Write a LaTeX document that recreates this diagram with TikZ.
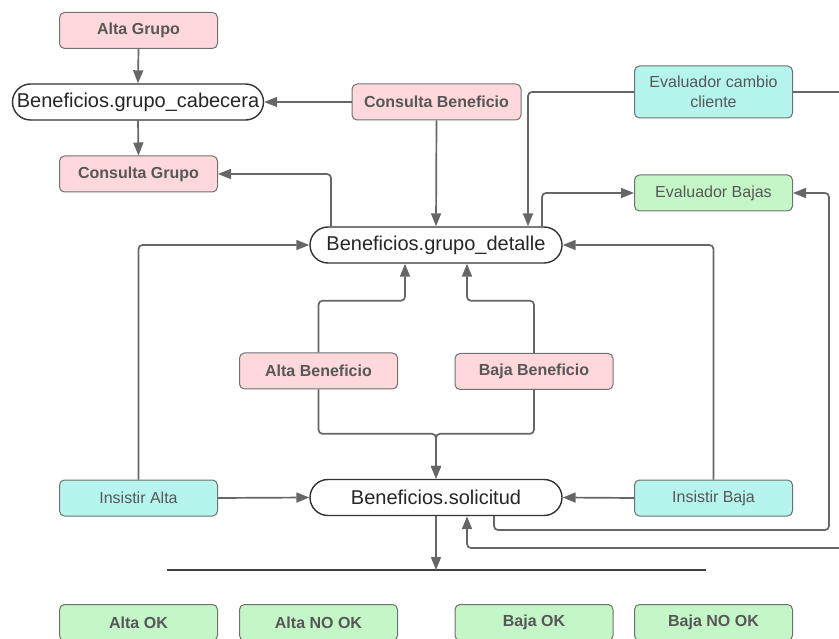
\documentclass[tikz,border=0pt]{standalone}
\usepackage{fontspec}
\setmainfont{Liberation Sans}
\usetikzlibrary{arrows.meta,calc}

\definecolor{pinkfill}{HTML}{FFD8DB}
\definecolor{cyanfill}{HTML}{B6F4EE}
\definecolor{greenfill}{HTML}{C4F6C8}
\definecolor{boxline}{HTML}{707070}
\definecolor{linegrey}{HTML}{666666}
\definecolor{txtgrey}{HTML}{575757}

\tikzset{
  box/.style={rectangle, rounded corners=5pt, draw=boxline, line width=1pt,
    minimum width=158pt, minimum height=36pt, inner sep=0pt, text=txtgrey,
    font=\fontsize{16}{20}\selectfont, align=center},
  pinkbox/.style={box, fill=pinkfill, font=\fontsize{16}{20}\selectfont\bfseries},
  cyanbox/.style={box, fill=cyanfill},
  greenbox/.style={box, fill=greenfill},
  greenbold/.style={box, fill=greenfill, font=\fontsize{16}{20}\selectfont\bfseries},
  tablenode/.style={rectangle, rounded corners=18pt, draw=black!80, line width=1.4pt,
    fill=white, minimum width=252pt, minimum height=36pt, inner sep=0pt,
    text=black!85, font=\fontsize{20}{24}\selectfont},
  conn/.style={draw=linegrey, line width=1.7pt, rounded corners=4pt,
    -{Triangle[length=13pt,width=10pt]}},
}

\begin{document}
\begin{tikzpicture}[x=1pt,y=-1pt]
\useasboundingbox (0,0) rectangle (839,639);
\clip (0,0) rectangle (839,639);

% tables
\node[tablenode, minimum width=251pt] (cab) at (138,102) {Beneficios.grupo\_cabecera};
\node[tablenode] (det) at (436,245) {Beneficios.grupo\_detalle};
\node[tablenode] (sol) at (436,497.5) {Beneficios.solicitud};

% operations
\node[pinkbox] (ag)  at (138.5,30.5) {Alta Grupo};
\node[pinkbox, minimum width=169pt] (cbf) at (436.5,102) {Consulta Beneficio};
\node[pinkbox] (cg)  at (138.5,174) {Consulta Grupo};
\node[pinkbox] (ab)  at (318.5,371) {Alta Beneficio};
\node[pinkbox] (bb)  at (534,371.5) {Baja Beneficio};

\node[cyanbox, minimum height=52pt] (ecc) at (713.5,92) {Evaluador cambio\\cliente};
\node[greenbox] (eb) at (713.5,193) {Evaluador Bajas};
\node[cyanbox] (ia) at (138.5,498) {Insistir Alta};
\node[cyanbox] (ib) at (713.5,498) {Insistir Baja};

\node[greenbold] (aok)  at (138.5,622.5) {Alta OK};
\node[greenbold] (anok) at (318.5,622.5) {Alta NO OK};
\node[greenbold] (bok)  at (534,622.5) {Baja OK};
\node[greenbold] (bnok) at (713.5,622.5) {Baja NO OK};

% helper points
\coordinate (l1) at (167,570);
\coordinate (l2) at (706,570);
\coordinate (rt) at (829,530);
\coordinate (far) at (852,548);

% result bar
\draw[draw=black!75, line width=1.6pt] (l1) -- (l2);

% header connectors
\draw[conn] (ag.south) -- (cab.north);
\draw[conn] (cab.south) -- (cg.north);
\draw[conn] (cbf.west) -- (cab.east);
\draw[conn] (cbf.south) -- (det.north);

% detail connectors
\draw[conn] (ecc.west) -| ($(det.north)+(92,0)$);
\draw[conn] ($(det.north)+(-105,0)$) |- (cg.east);
\draw[conn] ($(det.north)+(106,0)$) |- (eb.west);
\draw[conn] (ab.north) |- ($(det.south)+(-31,37)$) -- ($(det.south)+(-31,0)$);
\draw[conn] (bb.north) |- ($(det.south)+(31,37)$) -- ($(det.south)+(31,0)$);
\draw[conn] (ia.north) |- (det.west);
\draw[conn] (ib.north) |- (det.east);

% request connectors
\draw[conn] (ab.south) |- ($(sol.north)+(0,-45)$) -- (sol.north);
\draw[conn] (bb.south) |- ($(sol.north)+(0,-45)$) -- (sol.north);
\draw[conn] (ia.east) -- (sol.west);
\draw[conn] (ib.west) -- (sol.east);
\draw[conn] (sol.south) -- (sol.south |- l1);
\draw[conn] ($(sol.south)+(58,0)$) |- (rt) |- (eb.east);
\draw[conn] (ecc.east) -| (far) -| ($(sol.south)+(31,0)$);

\end{tikzpicture}
\end{document}
